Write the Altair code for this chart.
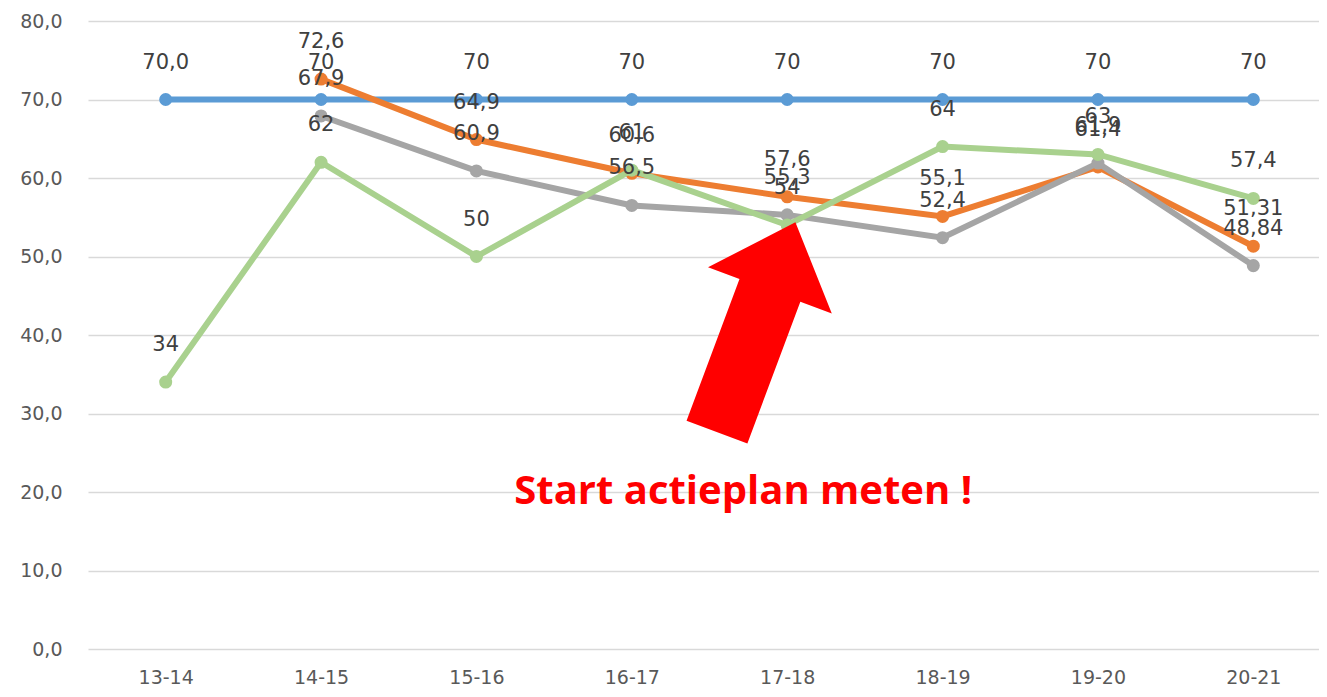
import altair as alt
import pandas as pd

seasons = ["13-14", "14-15", "15-16", "16-17", "17-18", "18-19", "19-20", "20-21"]
target = [70, 70, 70, 70, 70, 70, 70, 70]
target_lbl = ["70,0", "70", "70", "70", "70", "70", "70", "70"]
orange = [None, 72.6, 64.9, 60.6, 57.6, 55.1, 61.4, 51.31]
orange_lbl = ["", "72,6", "64,9", "60,6", "57,6", "55,1", "61,4", "51,31"]
gray = [None, 67.9, 60.9, 56.5, 55.3, 52.4, 61.9, 48.84]
gray_lbl = ["", "67,9", "60,9", "56,5", "55,3", "52,4", "61,9", "48,84"]
green = [34, 62, 50, 61, 54, 64, 63, 57.4]
green_lbl = ["34", "62", "50", "61", "54", "64", "63", "57,4"]

series = [
    ("s1", target, target_lbl, "#5B9BD5"),
    ("s2", orange, orange_lbl, "#ED7D31"),
    ("s3", gray, gray_lbl, "#A5A5A5"),
    ("s4", green, green_lbl, "#A9D18E"),
]

rows = []
for name, vals, lbls, col in series:
    for s, v, l in zip(seasons, vals, lbls):
        if v is not None:
            rows.append({"season": s, "value": v, "label": l, "series": name})
df = pd.DataFrame(rows)

x_enc = alt.X("season:N", sort=seasons,
              scale=alt.Scale(domain=seasons, paddingInner=0, paddingOuter=0.0, range=[0, 1243]),
              axis=alt.Axis(title=None, labelAngle=0, labelFontSize=19, labelColor="#595959",
                            labelFont="DejaVu Sans", ticks=False, domain=False, labelPadding=19, grid=False))
y_enc = alt.Y("value:Q", scale=alt.Scale(domain=[0, 80], nice=False, zero=True),
              axis=alt.Axis(title=None, values=list(range(0, 81, 10)), labelFontSize=19, labelColor="#595959",
                            labelFont="DejaVu Sans", ticks=False, domain=False, labelPadding=26,
                            gridColor="#D9D9D9", gridWidth=1.5,
                            labelExpr="replace(format(datum.value, '.1f'), '.', ',')"))

layers = []
for name, vals, lbls, col in series:
    sub = alt.Chart(df).transform_filter(alt.datum.series == name)
    layers.append(sub.mark_line(color=col, strokeWidth=6).encode(x=x_enc, y=y_enc))
    layers.append(sub.mark_point(color=col, filled=True, opacity=1, size=170).encode(x=x_enc, y=y_enc))

for name, vals, lbls, col in series:
    sub = alt.Chart(df).transform_filter(alt.datum.series == name)
    layers.append(sub.mark_text(dy=-37, fontSize=21, font="DejaVu Sans", color="#404040").encode(
        x=x_enc, y=y_enc, text="label:N"))

arrow_df = pd.DataFrame({"season": ["17-18"], "value": [41.0]})
arrow_path = "M -0.29 1 L 0.29 1 L 0.29 -0.35 L 0.59 -0.35 L 0 -1 L -0.59 -0.35 L -0.29 -0.35 Z"
arrow = alt.Chart(arrow_df).mark_point(shape=arrow_path, filled=True, color="#FF0000", opacity=1,
                                        size=50176, angle=20.5, strokeWidth=0).encode(
    x=x_enc, y=y_enc, xOffset=alt.value(-31))

note_df = pd.DataFrame({"season": ["17-18"], "value": [20.0], "t": ["Start actieplan meten !"]})
note = alt.Chart(note_df).mark_text(fontSize=40, fontWeight="bold", font="Open Sans", color="#FF0000",
                                     dx=-44).encode(x=x_enc, y=y_enc, text="t:N")

chart = alt.layer(*layers[:8], arrow, *layers[8:], note).properties(
    width=1231, height=628,
    padding={"left": 80, "top": 13, "right": 0, "bottom": 40},
    autosize="none",
    background="white",
).configure_view(stroke=None)

chart.save("out.html", embed_options={"renderer": "svg", "actions": False})
